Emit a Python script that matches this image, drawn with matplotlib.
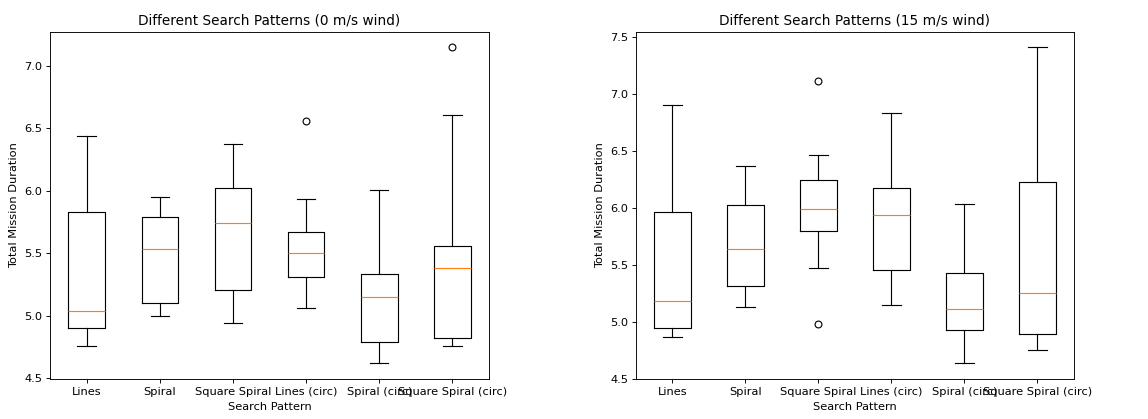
import matplotlib
matplotlib.use("Agg")
import matplotlib.pyplot as plt

PATTERNS = ['Lines', 'Spiral', 'Square Spiral', 'Lines (circ)',
            'Spiral (circ)', 'Square Spiral (circ)']

# 0 m/s wind: box statistics
calm_whislo = [4.756, 4.994, 4.941, 5.058, 4.618, 4.756]
calm_q1 = [4.903, 5.098, 5.205, 5.312, 4.788, 4.818]
calm_med = [5.034, 5.531, 5.742, 5.499, 5.146, 5.379]
calm_q3 = [5.830, 5.790, 6.025, 5.670, 5.333, 5.558]
calm_whishi = [6.436, 5.950, 6.375, 5.937, 6.006, 6.610]
calm_fliers = [[], [], [], [6.562], [], [7.147]]

# 15 m/s wind
wind_whislo = [4.863, 5.126, 5.468, 5.146, 4.635, 4.751]
wind_q1 = [4.947, 5.313, 5.795, 5.456, 4.927, 4.895]
wind_med = [5.181, 5.637, 5.991, 5.933, 5.111, 5.251]
wind_q3 = [5.965, 6.026, 6.240, 6.175, 5.427, 6.228]
wind_whishi = [6.901, 6.368, 6.462, 6.833, 6.035, 7.406]
wind_fliers = [[], [], [7.108, 4.982], [], [], []]


def make_stats(whislo, q1, med, q3, whishi, fliers):
    """ Build the list of dicts bxp wants """
    stats = []
    for i, label in enumerate(PATTERNS):
        stats.append({'label': label, 'whislo': whislo[i], 'q1': q1[i],
                      'med': med[i], 'q3': q3[i], 'whishi': whishi[i],
                      'fliers': fliers[i]})
    return stats


# 14 x 5.11 in at 82 dpi -> 1148 x 419 px
fig = plt.figure(figsize=(14, 5.11), dpi=82)
ax1 = fig.add_axes([0.0436, 0.0955, 0.3824, 0.8288])
ax2 = fig.add_axes([0.5540, 0.0955, 0.3815, 0.8288])

panels = [
    (ax1, make_stats(calm_whislo, calm_q1, calm_med, calm_q3, calm_whishi, calm_fliers), 0),
    (ax2, make_stats(wind_whislo, wind_q1, wind_med, wind_q3, wind_whishi, wind_fliers), 15),
]

for ax, stats, wind in panels:
    ax.bxp(stats)
    ax.set_title(f'Different Search Patterns ({wind} m/s wind)')
    ax.set_xlabel('Search Pattern')
    ax.set_ylabel('Total Mission Duration')

fig.savefig('out.png', dpi=82)
